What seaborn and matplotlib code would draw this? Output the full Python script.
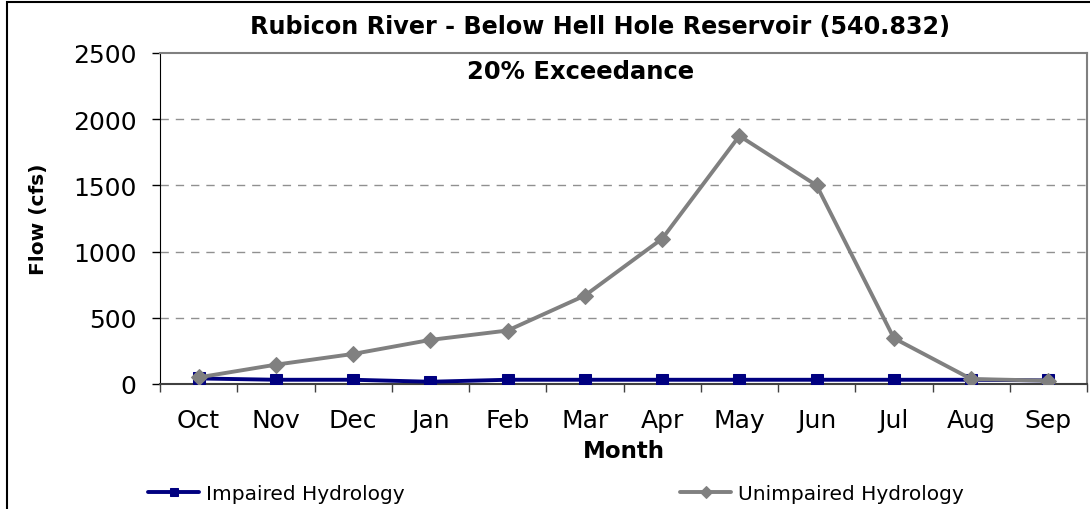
import numpy as np
import pandas as pd
from matplotlib import pyplot as plt
from matplotlib.patches import Rectangle
import seaborn as sns

# valores (cfs)
months = ["Oct", "Nov", "Dec", "Jan", "Feb", "Mar", "Apr", "May", "Jun", "Jul", "Aug", "Sep"]
impaired = [42, 32, 32, 17, 32, 32, 32, 32, 32, 32, 32, 27]
unimpaired = [50, 146, 227, 333, 404, 668, 1097, 1874, 1500, 346, 38, 25]

sns.set_style("white")
plt.rcParams['font.family'] = ['DejaVu Sans']
plt.rcParams['text.color'] = 'black'
plt.rcParams['axes.labelcolor'] = 'black'
plt.rcParams['xtick.color'] = 'black'
plt.rcParams['ytick.color'] = 'black'

df = pd.DataFrame({"idx": np.arange(len(months)), "month": months,
                   "Impaired Hydrology": impaired, "Unimpaired Hydrology": unimpaired})

fig = plt.figure(figsize=(10.9, 5.1), dpi=100)
ax = fig.add_axes([160 / 1090, 1 - 385 / 510, (1087 - 160) / 1090, (385 - 54) / 510])

sns.lineplot(data=df, x="idx", y="Impaired Hydrology", ax=ax, color="#000080", marker="s",
             markersize=8, markeredgecolor="#000080", linewidth=2.8, label="Impaired Hydrology", zorder=3)
sns.lineplot(data=df, x="idx", y="Unimpaired Hydrology", ax=ax, color="#808080", marker="D",
             markersize=8, markeredgecolor="#808080", linewidth=2.8, label="Unimpaired Hydrology", zorder=4)

ax.set_xlim(-0.5, len(months) - 0.5)
ax.set_ylim(0, 2500)
ax.set_yticks([0, 500, 1000, 1500, 2000, 2500])
ax.tick_params(axis="y", labelsize=18, length=6, width=1, pad=11, left=True)

# ticks en los bordes de cada mes, etiquetas en el centro
ax.set_xticks(np.arange(-0.5, len(months)), [""] * (len(months) + 1))
ax.set_xticks(np.arange(len(months)), months, minor=True)
ax.tick_params(axis="x", which="major", length=6, width=1, bottom=True, color="#404040")
ax.tick_params(axis="x", which="minor", length=0, labelsize=18, pad=17)

for y in [500, 1000, 1500, 2000]:
    ax.axhline(y, color="#909090", linestyle=(0, (6, 5)), linewidth=1, zorder=1)

for s in ["top", "right"]:
    ax.spines[s].set_color("#808080")
    ax.spines[s].set_linewidth(1.5)
ax.spines["left"].set_color("black")
ax.spines["bottom"].set_color("#404040")
ax.spines["bottom"].set_linewidth(1.5)

ax.set_xlabel("Month", fontsize=16.5, fontweight="bold", labelpad=5)
ax.set_ylabel("Flow (cfs)", fontsize=14.5, fontweight="bold", labelpad=18)
ax.text(4.95, 2364, "20% Exceedance", fontsize=17.5, fontweight="bold", ha="center", va="center")
fig.text(0.5505, 1 - 27 / 510, "Rubicon River - Below Hell Hole Reservoir (540.832)",
         fontsize=17.2, fontweight="bold", ha="center", va="center")

ax.get_legend().remove()
handles, labels = ax.get_legend_handles_labels()
fig.legend(handles, labels, loc="center", bbox_to_anchor=(556 / 1090, 1 - 495 / 510), ncol=2,
           frameon=False, fontsize=14.5, handlelength=2.5, handletextpad=0.35, columnspacing=13.7,
           markerscale=0.8)

fig.patches.append(Rectangle((7 / 1090, -0.2), 1.2, 1.2 - 3 / 510, transform=fig.transFigure,
                             fill=False, edgecolor="black", linewidth=1.5, clip_on=False))

fig.savefig("out.png", dpi=100)
